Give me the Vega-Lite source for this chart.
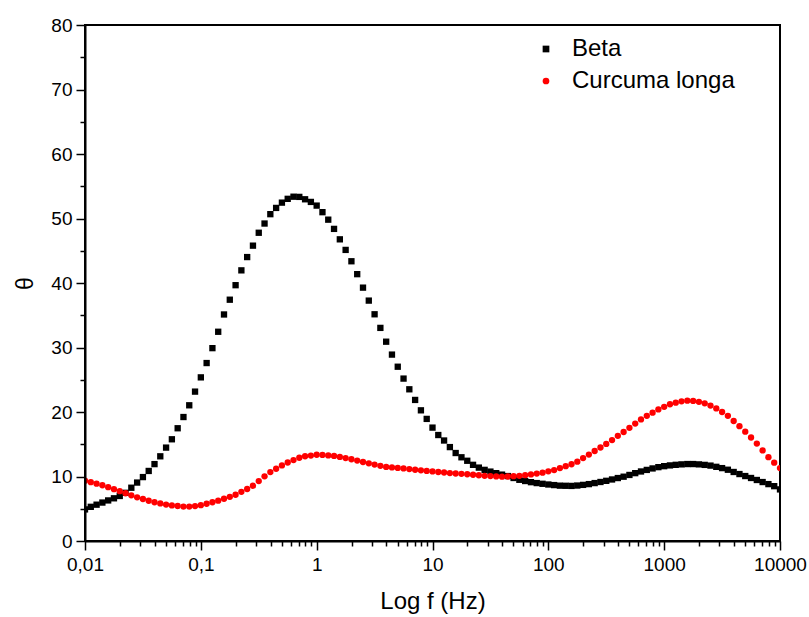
{
"$schema": "https://vega.github.io/schema/vega-lite/v6.json",
"width": 695,
"height": 516,
"autosize": "none",
"padding": {"left": 85, "top": 25, "right": 29, "bottom": 76},
"background": "white",
"config": {"view": {"stroke": "black", "strokeWidth": 2}, "font": "Liberation Sans"},
"data": {"values": [
{"series":"Beta","f":0.01,"theta":4.9},{"series":"Beta","f":0.01122,"theta":5.3},{"series":"Beta","f":0.012589,"theta":5.63},{"series":"Beta","f":0.014125,"theta":5.96},{"series":"Beta","f":0.015849,"theta":6.29},{"series":"Beta","f":0.017783,"theta":6.62},{"series":"Beta","f":0.019953,"theta":6.98},{"series":"Beta","f":0.022387,"theta":7.47},{"series":"Beta","f":0.025119,"theta":8.26},{"series":"Beta","f":0.028184,"theta":9.06},
{"series":"Beta","f":0.031623,"theta":9.91},{"series":"Beta","f":0.035481,"theta":10.86},{"series":"Beta","f":0.039811,"theta":11.92},{"series":"Beta","f":0.044668,"theta":13.13},{"series":"Beta","f":0.050119,"theta":14.48},{"series":"Beta","f":0.056234,"theta":15.77},{"series":"Beta","f":0.063096,"theta":17.48},{"series":"Beta","f":0.070795,"theta":19.22},{"series":"Beta","f":0.079433,"theta":21.04},{"series":"Beta","f":0.089125,"theta":23.16},
{"series":"Beta","f":0.1,"theta":25.37},{"series":"Beta","f":0.1122,"theta":27.59},{"series":"Beta","f":0.12589,"theta":29.9},{"series":"Beta","f":0.14125,"theta":32.44},{"series":"Beta","f":0.15849,"theta":35.12},{"series":"Beta","f":0.17783,"theta":37.41},{"series":"Beta","f":0.19953,"theta":39.66},{"series":"Beta","f":0.22387,"theta":41.96},{"series":"Beta","f":0.25119,"theta":44.02},{"series":"Beta","f":0.28184,"theta":45.79},
{"series":"Beta","f":0.31623,"theta":47.79},{"series":"Beta","f":0.35481,"theta":49.22},{"series":"Beta","f":0.39811,"theta":50.67},{"series":"Beta","f":0.44668,"theta":51.64},{"series":"Beta","f":0.50119,"theta":52.46},{"series":"Beta","f":0.56234,"theta":53.05},{"series":"Beta","f":0.63096,"theta":53.38},{"series":"Beta","f":0.70795,"theta":53.35},{"series":"Beta","f":0.79433,"theta":52.98},{"series":"Beta","f":0.89125,"theta":52.57},
{"series":"Beta","f":1,"theta":52.0},{"series":"Beta","f":1.122,"theta":50.98},{"series":"Beta","f":1.2589,"theta":49.82},{"series":"Beta","f":1.4125,"theta":48.39},{"series":"Beta","f":1.5849,"theta":46.77},{"series":"Beta","f":1.7783,"theta":45.13},{"series":"Beta","f":1.9953,"theta":43.37},{"series":"Beta","f":2.2387,"theta":41.37},{"series":"Beta","f":2.5119,"theta":39.28},{"series":"Beta","f":2.8184,"theta":37.27},
{"series":"Beta","f":3.1623,"theta":35.15},{"series":"Beta","f":3.5481,"theta":33.04},{"series":"Beta","f":3.9811,"theta":30.9},{"series":"Beta","f":4.4668,"theta":28.9},{"series":"Beta","f":5.0119,"theta":27.02},{"series":"Beta","f":5.6234,"theta":25.18},{"series":"Beta","f":6.3096,"theta":23.52},{"series":"Beta","f":7.0795,"theta":21.87},{"series":"Beta","f":7.9433,"theta":20.26},{"series":"Beta","f":8.9125,"theta":18.93},
{"series":"Beta","f":10,"theta":17.58},{"series":"Beta","f":11.22,"theta":16.43},{"series":"Beta","f":12.589,"theta":15.58},{"series":"Beta","f":14.125,"theta":14.56},{"series":"Beta","f":15.849,"theta":13.64},{"series":"Beta","f":17.783,"theta":12.98},{"series":"Beta","f":19.953,"theta":12.44},{"series":"Beta","f":22.387,"theta":11.81},{"series":"Beta","f":25.119,"theta":11.38},{"series":"Beta","f":28.184,"theta":11.03},
{"series":"Beta","f":31.623,"theta":10.76},{"series":"Beta","f":35.481,"theta":10.52},{"series":"Beta","f":39.811,"theta":10.29},{"series":"Beta","f":44.668,"theta":10.07},{"series":"Beta","f":50.119,"theta":9.77},{"series":"Beta","f":56.234,"theta":9.49},{"series":"Beta","f":63.096,"theta":9.3},{"series":"Beta","f":70.795,"theta":9.12},{"series":"Beta","f":79.433,"theta":8.98},{"series":"Beta","f":89.125,"theta":8.87},
{"series":"Beta","f":100,"theta":8.76},{"series":"Beta","f":112.2,"theta":8.67},{"series":"Beta","f":125.89,"theta":8.58},{"series":"Beta","f":141.25,"theta":8.56},{"series":"Beta","f":158.49,"theta":8.54},{"series":"Beta","f":177.83,"theta":8.6},{"series":"Beta","f":199.53,"theta":8.7},{"series":"Beta","f":223.87,"theta":8.82},{"series":"Beta","f":251.19,"theta":8.98},{"series":"Beta","f":281.84,"theta":9.15},
{"series":"Beta","f":316.23,"theta":9.33},{"series":"Beta","f":354.81,"theta":9.54},{"series":"Beta","f":398.11,"theta":9.76},{"series":"Beta","f":446.68,"theta":9.97},{"series":"Beta","f":501.19,"theta":10.24},{"series":"Beta","f":562.34,"theta":10.52},{"series":"Beta","f":630.96,"theta":10.78},{"series":"Beta","f":707.95,"theta":11.02},{"series":"Beta","f":794.33,"theta":11.25},{"series":"Beta","f":891.25,"theta":11.45},
{"series":"Beta","f":1000,"theta":11.6},{"series":"Beta","f":1122,"theta":11.72},{"series":"Beta","f":1258.9,"theta":11.81},{"series":"Beta","f":1412.5,"theta":11.88},{"series":"Beta","f":1584.9,"theta":11.93},{"series":"Beta","f":1778.3,"theta":11.93},{"series":"Beta","f":1995.3,"theta":11.88},{"series":"Beta","f":2238.7,"theta":11.8},{"series":"Beta","f":2511.9,"theta":11.69},{"series":"Beta","f":2818.4,"theta":11.5},
{"series":"Beta","f":3162.3,"theta":11.3},{"series":"Beta","f":3548.1,"theta":11.05},{"series":"Beta","f":3981.1,"theta":10.7},{"series":"Beta","f":4466.8,"theta":10.38},{"series":"Beta","f":5011.9,"theta":10.07},{"series":"Beta","f":5623.4,"theta":9.77},{"series":"Beta","f":6309.6,"theta":9.46},{"series":"Beta","f":7079.5,"theta":9.14},{"series":"Beta","f":7943.3,"theta":8.82},{"series":"Beta","f":8912.5,"theta":8.5},
{"series":"Beta","f":10000,"theta":8.0},
{"series":"Curcuma longa","f":0.01,"theta":9.35},{"series":"Curcuma longa","f":0.01122,"theta":9.12},{"series":"Curcuma longa","f":0.012589,"theta":8.89},{"series":"Curcuma longa","f":0.014125,"theta":8.64},{"series":"Curcuma longa","f":0.015849,"theta":8.34},{"series":"Curcuma longa","f":0.017783,"theta":8.03},{"series":"Curcuma longa","f":0.019953,"theta":7.72},{"series":"Curcuma longa","f":0.022387,"theta":7.4},{"series":"Curcuma longa","f":0.025119,"theta":7.08},{"series":"Curcuma longa","f":0.028184,"theta":6.77},
{"series":"Curcuma longa","f":0.031623,"theta":6.51},{"series":"Curcuma longa","f":0.035481,"theta":6.24},{"series":"Curcuma longa","f":0.039811,"theta":6.01},{"series":"Curcuma longa","f":0.044668,"theta":5.83},{"series":"Curcuma longa","f":0.050119,"theta":5.65},{"series":"Curcuma longa","f":0.056234,"theta":5.52},{"series":"Curcuma longa","f":0.063096,"theta":5.43},{"series":"Curcuma longa","f":0.070795,"theta":5.34},{"series":"Curcuma longa","f":0.079433,"theta":5.33},{"series":"Curcuma longa","f":0.089125,"theta":5.42},
{"series":"Curcuma longa","f":0.1,"theta":5.55},{"series":"Curcuma longa","f":0.1122,"theta":5.78},{"series":"Curcuma longa","f":0.12589,"theta":6.01},{"series":"Curcuma longa","f":0.14125,"theta":6.25},{"series":"Curcuma longa","f":0.15849,"theta":6.55},{"series":"Curcuma longa","f":0.17783,"theta":6.85},{"series":"Curcuma longa","f":0.19953,"theta":7.17},{"series":"Curcuma longa","f":0.22387,"theta":7.62},{"series":"Curcuma longa","f":0.25119,"theta":8.06},{"series":"Curcuma longa","f":0.28184,"theta":8.57},
{"series":"Curcuma longa","f":0.31623,"theta":9.29},{"series":"Curcuma longa","f":0.35481,"theta":10.02},{"series":"Curcuma longa","f":0.39811,"theta":10.68},{"series":"Curcuma longa","f":0.44668,"theta":11.2},{"series":"Curcuma longa","f":0.50119,"theta":11.72},{"series":"Curcuma longa","f":0.56234,"theta":12.17},{"series":"Curcuma longa","f":0.63096,"theta":12.54},{"series":"Curcuma longa","f":0.70795,"theta":12.91},{"series":"Curcuma longa","f":0.79433,"theta":13.14},{"series":"Curcuma longa","f":0.89125,"theta":13.25},
{"series":"Curcuma longa","f":1,"theta":13.37},{"series":"Curcuma longa","f":1.122,"theta":13.35},{"series":"Curcuma longa","f":1.2589,"theta":13.27},{"series":"Curcuma longa","f":1.4125,"theta":13.19},{"series":"Curcuma longa","f":1.5849,"theta":13.03},{"series":"Curcuma longa","f":1.7783,"theta":12.86},{"series":"Curcuma longa","f":1.9953,"theta":12.68},{"series":"Curcuma longa","f":2.2387,"theta":12.47},{"series":"Curcuma longa","f":2.5119,"theta":12.25},{"series":"Curcuma longa","f":2.8184,"theta":12.04},
{"series":"Curcuma longa","f":3.1623,"theta":11.85},{"series":"Curcuma longa","f":3.5481,"theta":11.66},{"series":"Curcuma longa","f":3.9811,"theta":11.48},{"series":"Curcuma longa","f":4.4668,"theta":11.41},{"series":"Curcuma longa","f":5.0119,"theta":11.33},{"series":"Curcuma longa","f":5.6234,"theta":11.25},{"series":"Curcuma longa","f":6.3096,"theta":11.15},{"series":"Curcuma longa","f":7.0795,"theta":11.05},{"series":"Curcuma longa","f":7.9433,"theta":10.96},{"series":"Curcuma longa","f":8.9125,"theta":10.87},
{"series":"Curcuma longa","f":10,"theta":10.79},{"series":"Curcuma longa","f":11.22,"theta":10.7},{"series":"Curcuma longa","f":12.589,"theta":10.62},{"series":"Curcuma longa","f":14.125,"theta":10.53},{"series":"Curcuma longa","f":15.849,"theta":10.46},{"series":"Curcuma longa","f":17.783,"theta":10.41},{"series":"Curcuma longa","f":19.953,"theta":10.35},{"series":"Curcuma longa","f":22.387,"theta":10.27},{"series":"Curcuma longa","f":25.119,"theta":10.19},{"series":"Curcuma longa","f":28.184,"theta":10.11},
{"series":"Curcuma longa","f":31.623,"theta":10.06},{"series":"Curcuma longa","f":35.481,"theta":10.01},{"series":"Curcuma longa","f":39.811,"theta":9.97},{"series":"Curcuma longa","f":44.668,"theta":10.0},{"series":"Curcuma longa","f":50.119,"theta":10.05},{"series":"Curcuma longa","f":56.234,"theta":10.1},{"series":"Curcuma longa","f":63.096,"theta":10.2},{"series":"Curcuma longa","f":70.795,"theta":10.32},{"series":"Curcuma longa","f":79.433,"theta":10.45},{"series":"Curcuma longa","f":89.125,"theta":10.6},
{"series":"Curcuma longa","f":100,"theta":10.8},{"series":"Curcuma longa","f":112.2,"theta":11.0},{"series":"Curcuma longa","f":125.89,"theta":11.3},{"series":"Curcuma longa","f":141.25,"theta":11.6},{"series":"Curcuma longa","f":158.49,"theta":11.9},{"series":"Curcuma longa","f":177.83,"theta":12.3},{"series":"Curcuma longa","f":199.53,"theta":12.85},{"series":"Curcuma longa","f":223.87,"theta":13.4},{"series":"Curcuma longa","f":251.19,"theta":13.95},{"series":"Curcuma longa","f":281.84,"theta":14.5},
{"series":"Curcuma longa","f":316.23,"theta":15.05},{"series":"Curcuma longa","f":354.81,"theta":15.65},{"series":"Curcuma longa","f":398.11,"theta":16.3},{"series":"Curcuma longa","f":446.68,"theta":16.9},{"series":"Curcuma longa","f":501.19,"theta":17.55},{"series":"Curcuma longa","f":562.34,"theta":18.2},{"series":"Curcuma longa","f":630.96,"theta":18.85},{"series":"Curcuma longa","f":707.95,"theta":19.4},{"series":"Curcuma longa","f":794.33,"theta":19.9},{"series":"Curcuma longa","f":891.25,"theta":20.4},
{"series":"Curcuma longa","f":1000,"theta":20.8},{"series":"Curcuma longa","f":1122,"theta":21.2},{"series":"Curcuma longa","f":1258.9,"theta":21.45},{"series":"Curcuma longa","f":1412.5,"theta":21.65},{"series":"Curcuma longa","f":1584.9,"theta":21.75},{"series":"Curcuma longa","f":1778.3,"theta":21.72},{"series":"Curcuma longa","f":1995.3,"theta":21.58},{"series":"Curcuma longa","f":2238.7,"theta":21.35},{"series":"Curcuma longa","f":2511.9,"theta":21.0},{"series":"Curcuma longa","f":2818.4,"theta":20.55},
{"series":"Curcuma longa","f":3162.3,"theta":20.0},{"series":"Curcuma longa","f":3548.1,"theta":19.4},{"series":"Curcuma longa","f":3981.1,"theta":18.6},{"series":"Curcuma longa","f":4466.8,"theta":17.8},{"series":"Curcuma longa","f":5011.9,"theta":16.95},{"series":"Curcuma longa","f":5623.4,"theta":16.05},{"series":"Curcuma longa","f":6309.6,"theta":15.1},{"series":"Curcuma longa","f":7079.5,"theta":14.05},{"series":"Curcuma longa","f":7943.3,"theta":13.0},{"series":"Curcuma longa","f":8912.5,"theta":12.15},
{"series":"Curcuma longa","f":10000,"theta":11.3}
]},
"layer": [
{
"mark": {"type": "point", "filled": true, "size": 40, "opacity": 1, "clip": true},
"encoding": {
"x": {"field": "f", "type": "quantitative", "scale": {"type": "log", "domain": [0.01, 10000], "nice": false},
"axis": {"orient": "bottom", "values": [0.01, 0.1, 1, 10, 100, 1000, 10000], "labelExpr": "replace(toString(datum.value), '.', ',')", "tickSize": 9, "tickWidth": 1.5, "tickColor": "black", "domainColor": "black", "domainWidth": 2, "labelFontSize": 19, "labelColor": "black", "labelFont": "Liberation Sans", "labelPadding": 5, "labelFlush": false, "labelOverlap": false, "title": "Log f (Hz)", "titleFont": "Liberation Sans", "titleFontSize": 24, "titleFontWeight": "normal", "titleColor": "black", "titlePadding": 15, "grid": false, "zindex": 1}},
"y": {"field": "theta", "type": "quantitative", "scale": {"domain": [0, 80], "nice": false},
"axis": {"orient": "left", "values": [0, 10, 20, 30, 40, 50, 60, 70, 80], "tickSize": 9, "tickWidth": 1.5, "tickColor": "black", "domainColor": "black", "domainWidth": 2, "labelFontSize": 19, "labelColor": "black", "labelFont": "Liberation Sans", "labelPadding": 4, "labelFlush": false, "title": "θ", "titleFont": "Liberation Sans", "titleFontSize": 23, "titleFontWeight": "normal", "titleColor": "black", "titlePadding": 13, "grid": false, "zindex": 1}},
"color": {"field": "series", "type": "nominal", "scale": {"domain": ["Beta", "Curcuma longa"], "range": ["#000000", "#ff0000"]},
"legend": {"orient": "none", "legendX": 449, "legendY": 12, "title": null, "labelFontSize": 24, "labelFont": "Liberation Sans", "labelColor": "black", "labelLimit": 400, "symbolSize": 45, "rowPadding": 8, "labelOffset": 14, "padding": 0, "symbolStrokeWidth": 0}},
"shape": {"field": "series", "type": "nominal", "scale": {"domain": ["Beta", "Curcuma longa"], "range": ["square", "circle"]}, "legend": {"orient": "none", "legendX": 449, "legendY": 12, "title": null, "labelFontSize": 24, "labelFont": "Liberation Sans", "labelColor": "black", "labelLimit": 400, "symbolSize": 45, "rowPadding": 8, "labelOffset": 14, "padding": 0, "symbolStrokeWidth": 0}}
}
},
{
"mark": {"type": "point", "opacity": 0},
"encoding": {
"x": {"field": "f", "type": "quantitative", "axis": {"orient": "bottom", "values": [0.02,0.03,0.04,0.05,0.06,0.07,0.08,0.09,0.2,0.3,0.4,0.5,0.6,0.7,0.8,0.9,2,3,4,5,6,7,8,9,20,30,40,50,60,70,80,90,200,300,400,500,600,700,800,900,2000,3000,4000,5000,6000,7000,8000,9000], "tickSize": 5, "tickWidth": 1.5, "tickColor": "black", "labels": false, "domain": false, "title": null, "grid": false, "zindex": 1}},
"y": {"field": "theta", "type": "quantitative", "axis": {"orient": "left", "values": [5, 15, 25, 35, 45, 55, 65, 75], "tickSize": 5, "tickWidth": 1.5, "tickColor": "black", "labels": false, "domain": false, "title": null, "grid": false, "zindex": 1}}
}
}
],
"resolve": {"axis": {"x": "independent", "y": "independent"}}
}
